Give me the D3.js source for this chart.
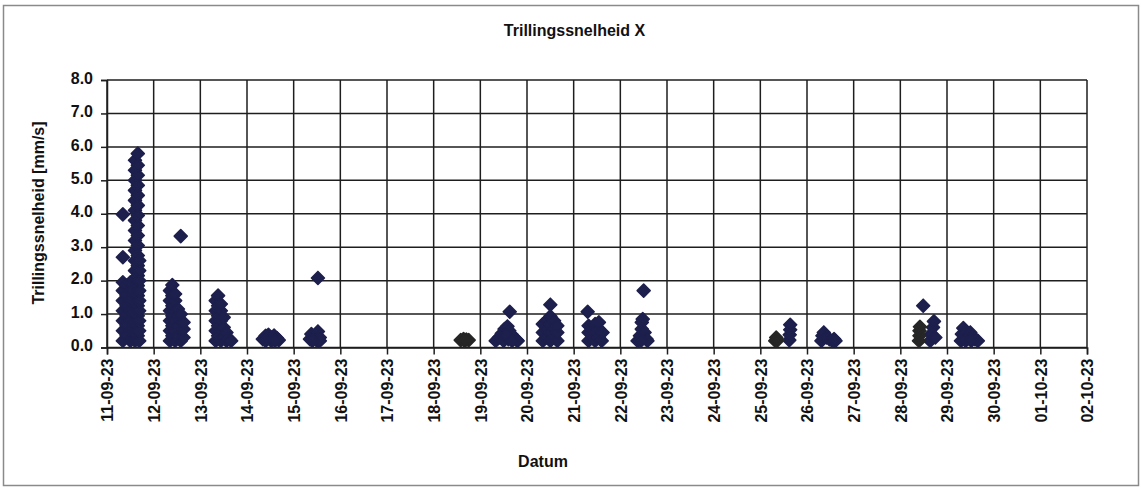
<!DOCTYPE html>
<html><head><meta charset="utf-8">
<script src="https://cdn.jsdelivr.net/npm/d3@7"></script>
<style>
html,body{margin:0;padding:0;background:#fff;}
text{font-family:"Liberation Sans",Arial,sans-serif;font-weight:bold;fill:#111;}
</style></head>
<body>
<svg id="chart" width="1141" height="488"></svg>
<script>
// ---- data (time = days after 11-09-23 00:00, value = mm/s) ----
const title = "Trillingssnelheid X";
const yTitle = "Trillingssnelheid [mm/s]";
const xTitle = "Datum";
const dateLabels = ["11-09-23","12-09-23","13-09-23","14-09-23","15-09-23","16-09-23","17-09-23","18-09-23","19-09-23","20-09-23","21-09-23","22-09-23","23-09-23","24-09-23","25-09-23","26-09-23","27-09-23","28-09-23","29-09-23","30-09-23","01-10-23","02-10-23"];
const yTicks = [0,1,2,3,4,5,6,7,8];

const sep11 = [[0.34,3.98],[0.34,2.70],
 [0.34,0.2],[0.34,0.5],[0.34,0.8],[0.34,1.1],[0.34,1.4],[0.34,1.7],[0.34,1.95],
 [0.42,0.35],[0.42,0.65],[0.42,0.95],[0.42,1.25],[0.42,1.55],[0.42,1.85],
 [0.50,0.2],[0.50,0.5],[0.50,0.8],[0.50,1.1],[0.50,1.4],[0.50,1.7],[0.50,1.95],
 [0.60,0.2],[0.60,0.5],[0.60,0.8],[0.60,1.1],[0.60,1.4],[0.60,1.7],[0.60,2.0],[0.60,2.3],[0.60,2.6],[0.60,2.9],[0.60,3.2],[0.60,3.5],[0.60,3.8],[0.60,4.1],[0.60,4.4],[0.60,4.7],[0.60,5.0],[0.60,5.3],[0.60,5.6],
 [0.66,0.35],[0.66,0.65],[0.66,0.95],[0.66,1.25],[0.66,1.55],[0.66,1.85],[0.66,2.15],[0.66,2.45],[0.66,2.75],[0.66,3.05],[0.66,3.35],[0.66,3.65],[0.66,3.95],[0.66,4.25],[0.66,4.55],[0.66,4.85],[0.66,5.15],[0.66,5.45],[0.66,5.8],
 [0.69,0.2],[0.69,0.5],[0.69,0.8],[0.69,1.1],[0.69,1.4],[0.69,1.7],[0.69,2.0],[0.69,2.3],[0.69,2.6]];
const sep12 = [[1.58,3.33],
 [1.35,0.2],[1.35,0.5],[1.35,0.8],[1.35,1.1],[1.35,1.4],[1.35,1.7],
 [1.40,0.35],[1.40,0.65],[1.40,0.95],[1.40,1.25],[1.40,1.55],[1.40,1.87],
 [1.46,0.2],[1.46,0.5],[1.46,0.8],[1.46,1.1],[1.46,1.4],[1.46,1.6],
 [1.52,0.35],[1.52,0.65],[1.52,0.95],[1.52,1.15],
 [1.58,0.2],[1.58,0.5],[1.58,0.8],[1.58,1.0],
 [1.64,0.3],[1.64,0.55],[1.64,0.75]];
const sep13 = [[2.33,0.2],[2.33,0.5],[2.33,0.8],[2.33,1.1],[2.33,1.4],
 [2.38,0.35],[2.38,0.65],[2.38,0.95],[2.38,1.25],[2.38,1.55],
 [2.44,0.2],[2.44,0.5],[2.44,0.8],[2.44,1.1],[2.44,1.3],
 [2.50,0.3],[2.50,0.6],[2.50,0.9],[2.56,0.2],[2.56,0.45],[2.62,0.25],[2.66,0.2]];
const sep14 = [[3.34,0.25],[3.40,0.35],[3.46,0.38],[3.52,0.30],[3.58,0.36],[3.64,0.28],[3.68,0.22],[3.40,0.2],[3.52,0.2],[3.60,0.2]];
const sep15 = [[4.35,0.25],[4.38,0.40],[4.44,0.30],[4.50,0.20],[4.52,0.48],[4.56,0.30],[4.56,0.20],[4.40,0.20],[4.52,2.08]];
const sep19 = [[8.33,0.2],[8.40,0.3],[8.46,0.42],[8.52,0.55],[8.58,0.63],[8.62,0.5],[8.66,0.4],[8.72,0.3],[8.78,0.22],[8.80,0.2],[8.50,0.2],[8.60,0.25],[8.56,0.35],[8.68,0.2],[8.63,1.07]];
const sep20 = [[9.34,0.2],[9.34,0.45],[9.34,0.7],[9.42,0.3],[9.42,0.55],[9.42,0.8],[9.50,0.2],[9.50,0.45],[9.50,0.7],[9.50,0.93],[9.58,0.3],[9.58,0.55],[9.58,0.8],[9.65,0.2],[9.65,0.45],[9.65,0.65],[9.50,1.28]];
const sep21 = [[10.32,0.2],[10.32,0.45],[10.32,0.65],[10.40,0.3],[10.40,0.55],[10.46,0.2],[10.46,0.45],[10.46,0.7],[10.54,0.3],[10.54,0.55],[10.54,0.75],[10.60,0.2],[10.62,0.45],[10.30,1.07]];
const sep22 = [[11.37,0.2],[11.42,0.35],[11.46,0.55],[11.46,0.75],[11.48,0.85],[11.52,0.45],[11.56,0.25],[11.58,0.2],[11.44,0.2],[11.50,1.70]];
const sep25 = [[14.62,0.22],[14.63,0.38],[14.64,0.53],[14.64,0.68]];
const sep26 = [[15.31,0.2],[15.33,0.35],[15.36,0.45],[15.42,0.3],[15.48,0.25],[15.54,0.2],[15.58,0.25],[15.61,0.2]];
const sep28 = [[17.64,0.2],[17.66,0.4],[17.70,0.6],[17.72,0.78],[17.75,0.3],[17.49,1.25]];
const sep29 = [[18.30,0.2],[18.32,0.4],[18.35,0.58],[18.40,0.45],[18.44,0.3],[18.50,0.45],[18.54,0.35],[18.60,0.25],[18.66,0.2],[18.40,0.2],[18.52,0.2]];
// darker (black) group
const black18 = [[7.58,0.22],[7.64,0.25],[7.70,0.24],[7.75,0.22],[7.66,0.2]];
const black25 = [[14.32,0.2],[14.34,0.3],[14.37,0.22]];
const black28 = [[17.40,0.2],[17.41,0.35],[17.41,0.5],[17.42,0.62]];

const navyPoints = [].concat(sep11,sep12,sep13,sep14,sep15,sep19,sep20,sep21,sep22,sep25,sep26,sep28,sep29);
const blackPoints = [].concat(black18,black25,black28);

// ---- chart ----
const m = {left:107, right:1087, top:80, bottom:347.5};
const svg = d3.select("#chart");
const start = new Date(2023,8,11);
const end = new Date(2023,9,2);
const toDate = t => new Date(start.getTime() + t*864e5);
const x = d3.scaleTime().domain([start,end]).range([m.left,m.right]);
const y = d3.scaleLinear().domain([0,8]).range([m.bottom,m.top]);
const dayTicks = dateLabels.map((d,i)=>d3.timeDay.offset(start,i));
const ink = "#1e1e1e";

// outer frame
svg.append("rect").attr("x",3.5).attr("y",5.5).attr("width",1135).attr("height",480)
  .attr("fill","#fff").attr("stroke","#8a8a8a").attr("stroke-width",1.5);

// gridlines
const grid = svg.append("g").attr("stroke",ink).attr("stroke-width",1.5);
grid.selectAll("line.h").data(yTicks).join("line").attr("class","h")
  .attr("x1",m.left).attr("x2",m.right).attr("y1",d=>y(d)).attr("y2",d=>y(d));
grid.selectAll("line.v").data(dayTicks).join("line").attr("class","v")
  .attr("y1",m.top).attr("y2",m.bottom).attr("x1",d=>x(d)).attr("x2",d=>x(d));

// axes
const xAxis = d3.axisBottom(x).tickValues(dayTicks).tickSize(7).tickPadding(4)
  .tickFormat((d,i)=>dateLabels[i]);
const gx = svg.append("g").attr("transform",`translate(0,${m.bottom})`).call(xAxis);
gx.select(".domain").attr("stroke",ink).attr("stroke-width",1.5);
gx.selectAll(".tick line").attr("stroke",ink).attr("stroke-width",1.5);
gx.selectAll(".tick text")
  .attr("font-size",16).attr("font-family","Liberation Sans, Arial, sans-serif").attr("font-weight","bold").attr("fill","#111")
  .attr("text-anchor","end").attr("transform","rotate(-90)")
  .attr("x",-11).attr("y",0).attr("dy","0.36em");

const yAxis = d3.axisLeft(y).tickValues(yTicks).tickSize(6).tickPadding(8).tickFormat(d3.format(".1f"));
const gy = svg.append("g").attr("transform",`translate(${m.left},0)`).call(yAxis);
gy.select(".domain").attr("stroke",ink).attr("stroke-width",1.5);
gy.selectAll(".tick line").attr("stroke",ink).attr("stroke-width",1.5);
gy.selectAll(".tick text")
  .attr("font-size",16).attr("font-family","Liberation Sans, Arial, sans-serif").attr("font-weight","bold").attr("fill","#111")
  .attr("dy","0.2em");

// markers (diamonds)
const diamond = d3.symbol().type(d3.symbolSquare).size(84)();
svg.append("g").selectAll("path").data(navyPoints).join("path")
  .attr("d",diamond).attr("fill","#1d1f4c").attr("stroke","#1d1f4c").attr("stroke-width",1.6).attr("stroke-linejoin","round")
  .attr("transform",d=>`translate(${x(toDate(d[0]))},${y(d[1])}) rotate(45)`);
svg.append("g").selectAll("path").data(blackPoints).join("path")
  .attr("d",diamond).attr("fill","#262626").attr("stroke","#262626").attr("stroke-width",1.6).attr("stroke-linejoin","round")
  .attr("transform",d=>`translate(${x(toDate(d[0]))},${y(d[1])}) rotate(45)`);

// titles
svg.append("text").attr("x",574.5).attr("y",36).attr("text-anchor","middle").attr("font-size",16).text(title);
svg.append("text").attr("x",543).attr("y",467).attr("text-anchor","middle").attr("font-size",16).text(xTitle);
svg.append("text").attr("transform","translate(44,213) rotate(-90)").attr("text-anchor","middle").attr("font-size",16).text(yTitle);
</script>
</body></html>
